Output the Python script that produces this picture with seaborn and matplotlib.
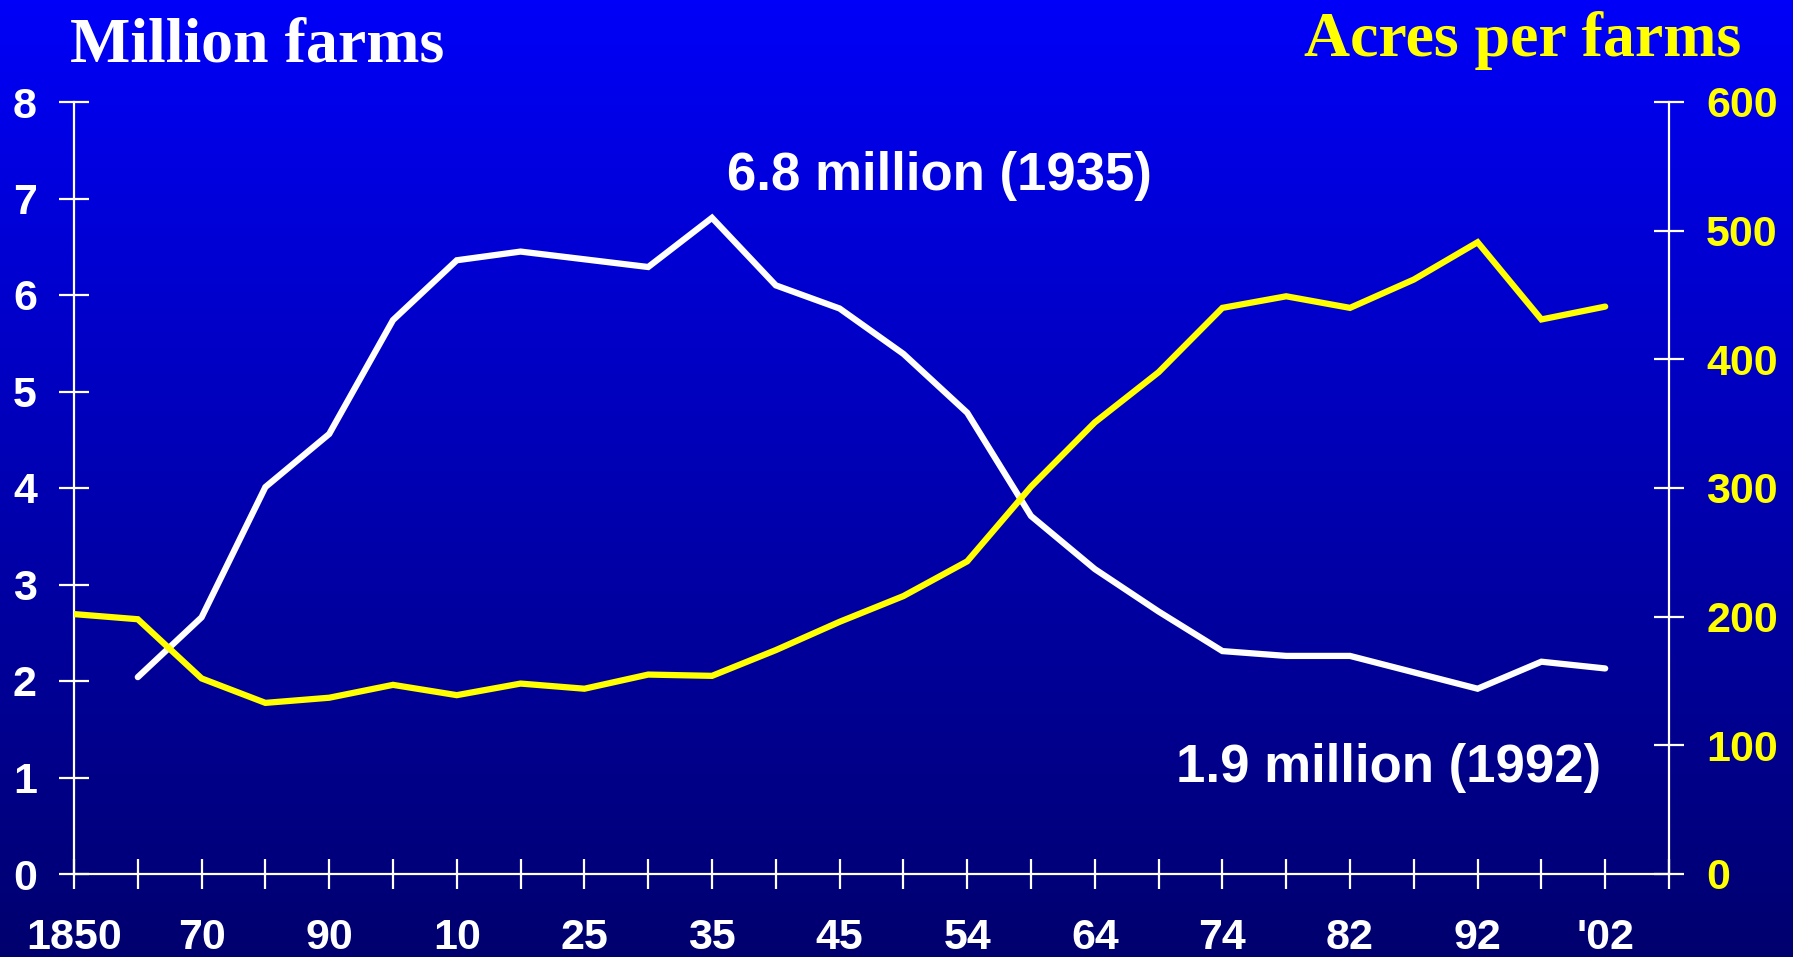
import numpy as np
import pandas as pd
import matplotlib
matplotlib.use("Agg")
import matplotlib.pyplot as plt
import seaborn as sns

# Census years shown on the axis (evenly spaced, one tick per census)
census_years = [1850, 1860, 1870, 1880, 1890, 1900, 1910, 1920, 1925, 1930,
                1935, 1940, 1945, 1950, 1954, 1959, 1964, 1969, 1974, 1978,
                1982, 1987, 1992, 1997, 2002]
year_labels = ["1850", "", "70", "", "90", "", "10", "", "25", "", "35", "",
               "45", "", "54", "", "64", "", "74", "", "82", "", "92", "", "'02"]

# Number of farms (millions); no count for 1850
farms_million = [np.nan, 2.04, 2.66, 4.01, 4.56, 5.74, 6.36, 6.45, 6.37, 6.29,
                 6.80, 6.10, 5.86, 5.39, 4.78, 3.71, 3.16, 2.72, 2.31, 2.26,
                 2.26, 2.09, 1.92, 2.20, 2.13]

# Average farm size (acres per farm)
acres_per_farm = [202, 198, 152, 133, 137, 147, 139, 148, 144, 155,
                  154, 174, 196, 216, 243, 301, 351, 390, 440, 449,
                  440, 462, 491, 431, 441]

left_ticks = [0, 1, 2, 3, 4, 5, 6, 7, 8]
right_ticks = [0, 100, 200, 300, 400, 500, 600]

peak_note = "6.8 million (1935)"
low_note = "1.9 million (1992)"

df = pd.DataFrame({
    "year": census_years,
    "pos": np.arange(len(census_years)),
    "farms": farms_million,
    "acres": acres_per_farm,
})

sns.set_style("white")
plt.rcParams["font.family"] = ["Liberation Sans", "DejaVu Sans"]
plt.rcParams["font.weight"] = "bold"

W, H, DPI = 1793, 957, 100
fig = plt.figure(figsize=(W / DPI, H / DPI), dpi=DPI)

# Vertical blue gradient behind everything
bg = fig.add_axes([0, 0, 1, 1], zorder=-10)
grad = np.linspace(0, 1, 256).reshape(-1, 1)
top_c = np.array([0.0, 0.0, 248 / 255])
bot_c = np.array([0.0, 0.0, 110 / 255])
img = top_c[None, None, :] * (1 - grad[:, :, None]) + bot_c[None, None, :] * grad[:, :, None]
bg.imshow(img, aspect="auto", extent=[0, 1, 0, 1], origin="upper")
bg.set_axis_off()

ax = fig.add_axes([74 / W, 1 - 874 / H, (1669 - 74) / W, (874 - 102) / H])
ax.set_facecolor("none")
ax2 = ax.twinx()
ax2.set_facecolor("none")

line_w = 4.5
sns.lineplot(data=df.dropna(subset=["farms"]), x="pos", y="farms", ax=ax,
             color="white", linewidth=line_w, solid_joinstyle="miter")
sns.lineplot(data=df, x="pos", y="acres", ax=ax2,
             color="#FFFF00", linewidth=line_w, solid_joinstyle="miter")

n = len(census_years)
ax.set_xlim(0, n)
ax.set_ylim(0, 8)
ax2.set_ylim(0, 600)

ax.set_xticks(np.arange(n + 1))
ax.set_xticklabels(year_labels + [""])
ax.set_yticks(left_ticks)
ax.set_yticklabels([str(t) for t in left_ticks])
ax2.set_yticks(right_ticks)
ax2.set_yticklabels([str(t) for t in right_ticks])

for a in (ax, ax2):
    a.set_xlabel("")
    a.set_ylabel("")
    for s in a.spines.values():
        s.set_visible(False)

spine_w = 1.6
ax.spines["left"].set_visible(True)
ax.spines["bottom"].set_visible(True)
ax2.spines["right"].set_visible(True)
for s in (ax.spines["left"], ax.spines["bottom"], ax2.spines["right"]):
    s.set_color("white")
    s.set_linewidth(spine_w)

tick_len = 21.6
ax.tick_params(axis="x", direction="inout", length=tick_len, width=spine_w,
               color="white", labelcolor="white", labelsize=31, pad=21,
               bottom=True)
ax.tick_params(axis="y", direction="inout", length=tick_len, width=spine_w,
               color="white", labelcolor="white", labelsize=31, pad=16,
               left=True)
ax2.tick_params(axis="y", direction="inout", length=tick_len, width=spine_w,
                color="white", labelcolor="#FFFF00", labelsize=31, pad=16,
                right=True)
for lab in ax.get_xticklabels() + ax.get_yticklabels() + ax2.get_yticklabels():
    lab.set_fontweight("bold")

# Axis titles
serif = ["Liberation Serif", "DejaVu Serif"]
fig.text(70 / W, 1 - 62 / H, "Million farms", color="white", fontsize=46,
         fontweight="bold", family=serif, ha="left", va="baseline")
fig.text(1741 / W, 1 - 56 / H, "Acres per farms", color="#FFFF00", fontsize=46,
         fontweight="bold", family=serif, ha="right", va="baseline")

# Annotations for peak and low
ax.text(13.56, 7.09, peak_note, color="white", fontsize=38, fontweight="bold",
        ha="center", va="baseline")
ax.text(20.6, 0.95, low_note, color="white", fontsize=38, fontweight="bold",
        ha="center", va="baseline")

fig.savefig("out.png", dpi=DPI)
